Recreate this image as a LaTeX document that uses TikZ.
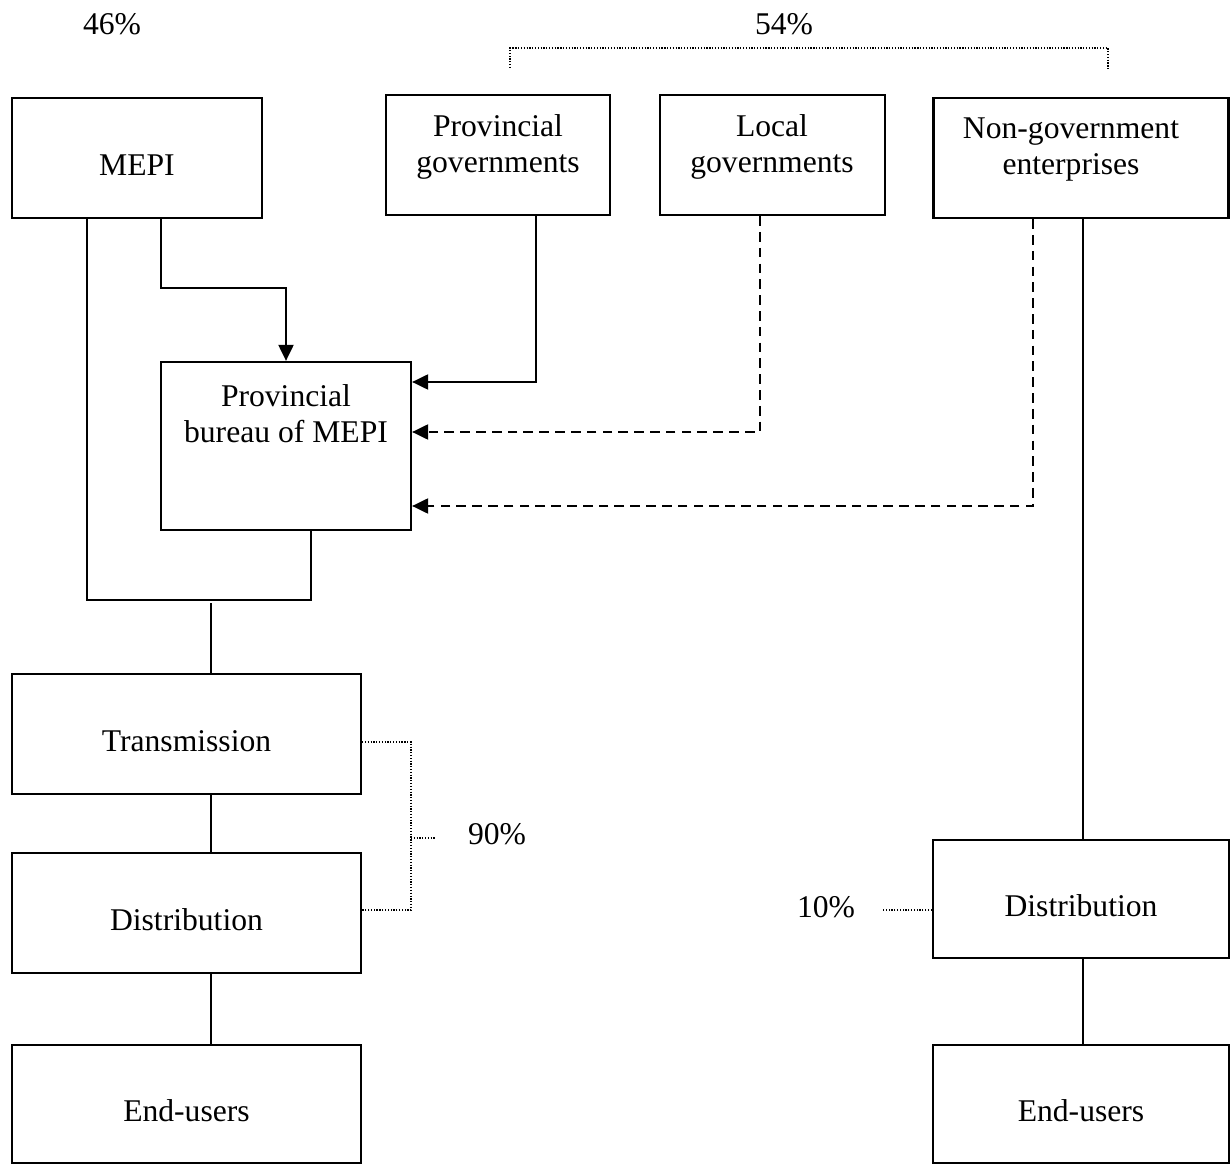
\documentclass[tikz,border=0pt]{standalone}
\usepackage{fontspec}
\setmainfont{Liberation Serif}
\usetikzlibrary{arrows.meta}

\begin{document}
\begin{tikzpicture}[x=0.02cm, y=-0.02cm, line width=1.2pt,
        box/.style={draw, line width=1.3pt, align=center, inner sep=0pt,
            text height=20pt, text depth=0pt,
            font=\fontsize{18}{20.5}\selectfont},
        txt/.style={align=center, inner sep=0pt, font=\fontsize{18}{20.5}\selectfont},
        arr/.style={-{Triangle[length=0.32cm, width=0.3cm]}},
        dashline/.style={dash pattern=on 5.5pt off 3.5pt},
        dots/.style={line width=0.7pt, dash pattern=on 0.7pt off 0.9pt}]
        \useasboundingbox (0,0) rectangle (1230,1165);

        % 框
        \node[box, minimum width=5cm, minimum height=2.4cm] (mepi) at (137,158) {MEPI};
        \node[box, minimum width=4.48cm, minimum height=2.4cm] (provgov) at (498,155) {};
        \node[txt] (provgovtxt) at (498,147) {Provincial\\governments};
        \node[box, minimum width=4.5cm, minimum height=2.4cm] (localgov) at (772.5,155) {};
        \node[txt] (localgovtxt) at (772,147) {Local\\governments};
        \node[box, minimum width=5.9cm, minimum height=2.4cm] (nongov) at (1081,158) {};
        \node[txt] (nongovtxt) at (1071,150) {Non-government\\enterprises};
        \node[box, minimum width=5cm, minimum height=3.36cm] (bureau) at (286,446) {};
        \node[txt] (bureautxt) at (286,414) {Provincial\\bureau of MEPI};

        \node[box, minimum width=6.98cm, minimum height=2.4cm] (trans) at (186.5,734) {Transmission};
        \node[box, minimum width=6.98cm, minimum height=2.4cm] (distl) at (186.5,913) {Distribution};
        \node[box, minimum width=6.98cm, minimum height=2.36cm] (endl) at (186.5,1104) {End-users};
        \node[box, minimum width=5.92cm, minimum height=2.36cm] (distr) at (1081,899) {Distribution};
        \node[box, minimum width=5.92cm, minimum height=2.36cm] (endr) at (1081,1104) {End-users};

        % 百分比
        \node[txt] (p46) at (112,24) {46\%};
        \node[txt] (p54) at (784,24) {54\%};
        \node[txt] (p90) at (497,834) {90\%};
        \node[txt] (p10) at (826,907) {10\%};

        % 左边的汇合线
        \coordinate (jl) at (87,600);
        \coordinate (jr) at (311,600);
        \coordinate (jm) at (211,603);
        \draw (mepi.south -| jl) -- (jl) -- (jr) -- (bureau.south -| jr);
        \draw (jm) -- (trans.north -| jm);
        \draw (trans.south -| jm) -- (distl.north -| jm);
        \draw (distl.south -| jm) -- (endl.north -| jm);

        % 箭头
        \draw[arr] (mepi.south -| 161,0) |- (bureau.north |- 0,288) -- (bureau.north);
        \draw[arr] (provgov.south -| 536,0) |- (bureau.east |- 0,382);
        \draw[arr, dashline] (localgov.south -| 760,0) |- (bureau.east |- 0,432);
        \draw[arr, dashline] (nongov.south -| 1033,0) |- (bureau.east |- 0,506);

        % 右边
        \draw (nongov.south -| 1083,0) -- (distr.north -| 1083,0);
        \draw (distr.south -| 1083,0) -- (endr.north -| 1083,0);

        % 点线括号
        \draw[dots] (510,68) -- (510,48) -- (1108,48) -- (1108,70);
        \draw[dots] (trans.east |- 0,742) -- (411,742) -- (411,910) -- (distl.east |- 0,910);
        \draw[dots] (411,838) -- (435,838);
        \draw[dots] (distr.west |- 0,910) -- (883,910);
    \end{tikzpicture}
\end{document}
